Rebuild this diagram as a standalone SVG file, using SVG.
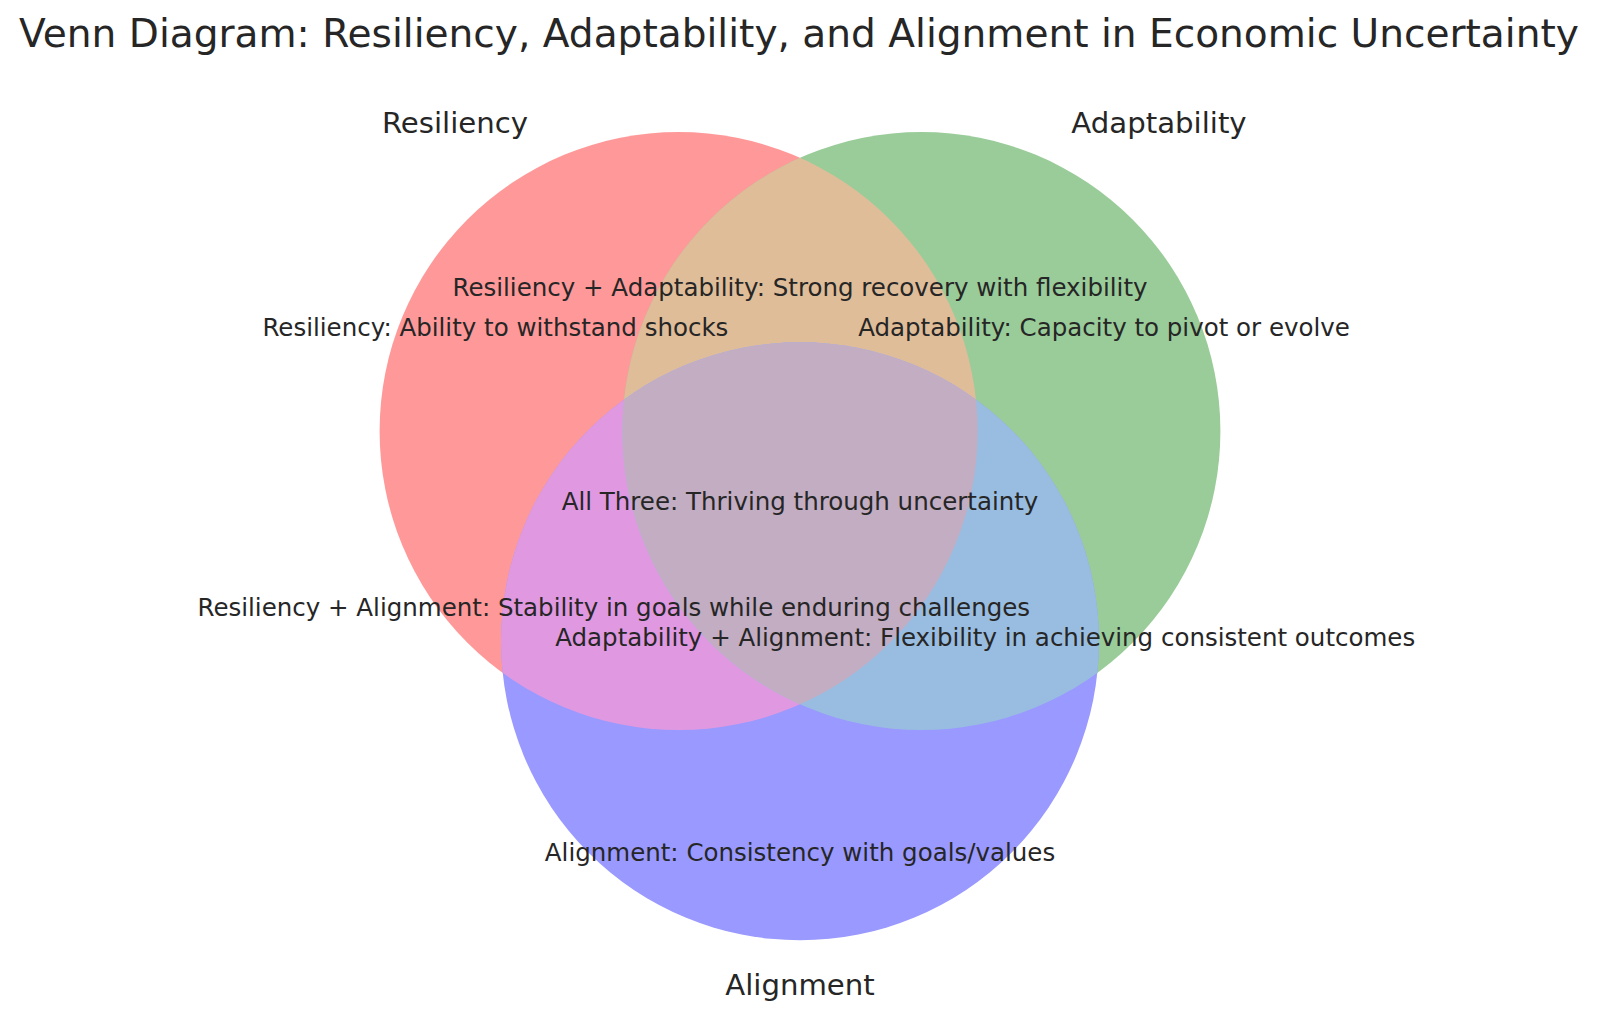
<svg xmlns="http://www.w3.org/2000/svg" width="1600" height="1029" viewBox="0 0 1600 1029">
<defs>
<style>
text{font-family:"DejaVu Sans","Liberation Sans",sans-serif;fill:#262626;text-anchor:middle}
.title{font-size:39.1px}
.set{font-size:29.2px}
.sub{font-size:24.5px}
</style>
<clipPath id="clipA"><circle cx="678.6" cy="431.1" r="299"/></clipPath>
<clipPath id="clipB"><circle cx="921.4" cy="431.1" r="299"/></clipPath>
</defs>
<rect width="1600" height="1029" fill="#ffffff"/>
<text class="title" x="799" y="47">Venn Diagram: Resiliency, Adaptability, and Alignment in Economic Uncertainty</text>
<g id="regions">
<g id="set-resiliency"><circle cx="678.6" cy="431.1" r="299" fill="#ff9999"/></g>
<g id="set-adaptability"><circle cx="921.4" cy="431.1" r="299" fill="#99cc99"/></g>
<g id="set-alignment"><circle cx="800" cy="641.3" r="299" fill="#9999ff"/></g>
<g id="resiliency-adaptability"><circle cx="921.4" cy="431.1" r="299" fill="#e0bd99" clip-path="url(#clipA)"/></g>
<g id="resiliency-alignment"><circle cx="800" cy="641.3" r="299" fill="#e099e0" clip-path="url(#clipA)"/></g>
<g id="adaptability-alignment"><circle cx="800" cy="641.3" r="299" fill="#99bde0" clip-path="url(#clipB)"/></g>
<g id="all-three" clip-path="url(#clipA)"><circle cx="800" cy="641.3" r="299" fill="#c2adc2" clip-path="url(#clipB)"/></g>
</g>
<g id="set-labels">
<text class="set" x="455" y="132.5">Resiliency</text>
<text class="set" x="1159" y="132.5">Adaptability</text>
<text class="set" x="800" y="994.5">Alignment</text>
</g>
<g id="subset-labels">
<text class="sub" x="800" y="295.5">Resiliency + Adaptability: Strong recovery with flexibility</text>
<text class="sub" x="495.4" y="335.5">Resiliency: Ability to withstand shocks</text>
<text class="sub" x="1104" y="335.5">Adaptability: Capacity to pivot or evolve</text>
<text class="sub" x="800" y="510">All Three: Thriving through uncertainty</text>
<text class="sub" x="613.8" y="616">Resiliency + Alignment: Stability in goals while enduring challenges</text>
<text class="sub" x="985.2" y="646">Adaptability + Alignment: Flexibility in achieving consistent outcomes</text>
<text class="sub" x="800" y="861">Alignment: Consistency with goals/values</text>
</g>
</svg>
